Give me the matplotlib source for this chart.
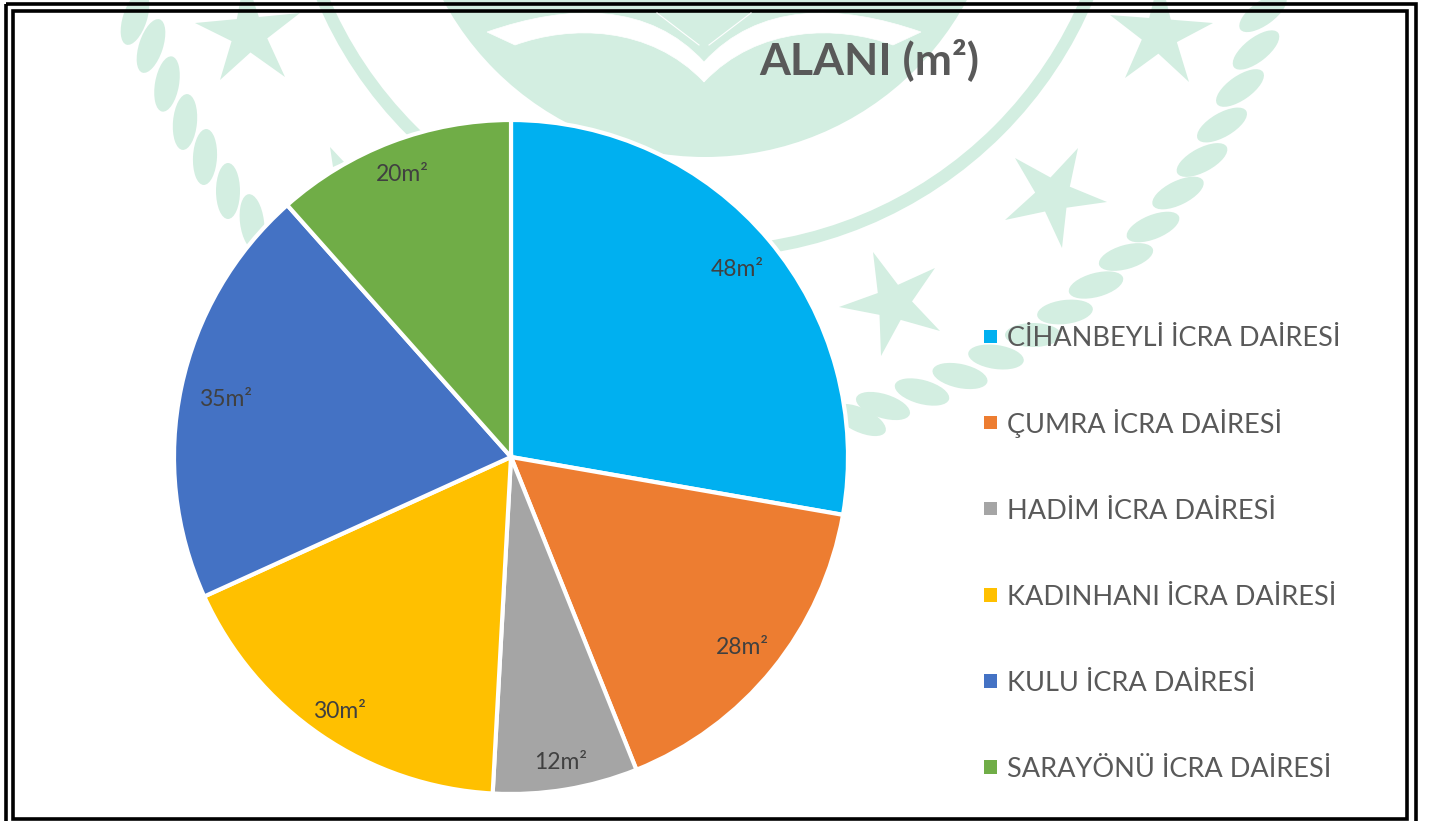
import matplotlib
matplotlib.use("Agg")
import matplotlib.pyplot as plt
from matplotlib.patches import Circle, Ellipse, Polygon, PathPatch, Rectangle
from matplotlib.path import Path

plt.rcParams['font.family'] = ['Lato', 'DejaVu Sans']

categories = ["CİHANBEYLİ İCRA DAİRESİ", "ÇUMRA İCRA DAİRESİ", "HADİM İCRA DAİRESİ",
              "KADINHANI İCRA DAİRESİ", "KULU İCRA DAİRESİ", "SARAYÖNÜ İCRA DAİRESİ"]
values = [48, 28, 12, 30, 35, 20]
colors = ["#00B0F0", "#ED7D31", "#A5A5A5", "#FFC000", "#4472C4", "#70AD47"]
title = "ALANI (m²)"

WM = "#D3EEE1"

fig = plt.figure(figsize=(14.34, 8.21), dpi=100, facecolor="white")

# background layer in pixel coords (watermark + frame)
bg = fig.add_axes([0, 0, 1, 1], zorder=0)
bg.set_xlim(0, 1434)
bg.set_ylim(821, 0)
bg.axis("off")


def star(tips):
    cx = sum(p[0] for p in tips) / 5
    cy = sum(p[1] for p in tips) / 5
    pts = []
    for i in range(5):
        a = tips[i]
        b = tips[(i + 1) % 5]
        pts.append(a)
        pts.append((cx + 0.42 * ((a[0] + b[0]) / 2 - cx), cy + 0.42 * ((a[1] + b[1]) / 2 - cy)))
    bg.add_patch(Polygon(pts, closed=True, fc=WM, ec="none"))


# big crest shape and ring
bg.add_patch(Circle((705, -140), 297, fc=WM, ec="none"))
bg.add_patch(Circle((705, -163), 415, fc="none", ec=WM, lw=9))


def page(m):
    # white band of the open book, m mirrors it around the crest axis
    x = lambda v: 704 + m * (v - 704)
    verts = [(x(487), 32), (x(570), 3), (x(650), 3), (x(704), 62), (x(704), 82),
             (x(650), 25), (x(570), 25), (x(515), 45), (x(487), 32)]
    codes = [Path.MOVETO, Path.CURVE4, Path.CURVE4, Path.CURVE4, Path.LINETO,
             Path.CURVE4, Path.CURVE4, Path.CURVE4, Path.CLOSEPOLY]
    bg.add_patch(PathPatch(Path(verts, codes), fc="white", ec="white", lw=0.5))
    bg.plot([x(657), x(699)], [13, 45], color="white", lw=0.8)


page(1)
page(-1)

star([(245, -25), (300, 13), (285, 77), (220, 80), (195, 23)])
star([(1160, -25), (1213, 23), (1189, 82), (1125, 78), (1110, 15)])
star([(1078, 148), (1107, 202), (1062, 248), (1005, 220), (1015, 158)])
star([(873, 252), (935, 268), (940, 331), (881, 356), (839, 307)])

# small star tip that pokes out above the pie
bg.add_patch(Polygon([(330, 147), (344, 162), (333, 167)], closed=True, fc=WM, ec="none"))

# laurel leaves: x, y, tilt (positive goes down to the right)
leaves = [(135, 18, -72), (151, 46, -72), (167, 84, -80), (185, 122, -85),
          (205, 157, -87), (228, 191, -90), (252, 222, -97),
          (1263, 13, -36), (1256, 50, -38), (1240, 88, -35), (1222, 125, -30),
          (1202, 160, -28), (1178, 193, -26), (1153, 227, -22), (1126, 257, -16),
          (1096, 285, -15), (1065, 312, -7), (1033, 335, 0), (996, 357, 8),
          (960, 376, 12), (922, 392, 15), (883, 406, 17), (860, 420, 25)]
for lx, ly, ang in leaves:
    bg.add_patch(Ellipse((lx, ly), 56, 24, angle=ang, fc=WM, ec="none"))

# double frame
bg.add_patch(Rectangle((5.5, 4), 1410, 830, fc="none", ec="black", lw=2.6))
bg.add_patch(Rectangle((13, 11), 1394, 808, fc="none", ec="black", lw=2.6))

# pie
side = 337 * 2 * 1.02
ax = fig.add_axes([(511 - side / 2) / 1434, (821 - 457 - side / 2) / 821, side / 1434, side / 821], zorder=1)
ax.patch.set_alpha(0)
data_labels = [f"{v}m²" for v in values]
wedges, texts = ax.pie(values, colors=colors, labels=data_labels, labeldistance=1.0,
                       startangle=90, counterclock=False,
                       wedgeprops=dict(edgecolor="white", linewidth=3),
                       textprops=dict(fontsize=16.5, color="#404040"))
label_r = [0.878, 0.882, 0.911, 0.902, 0.867, 0.905]
for t, r in zip(texts, label_r):
    px, py = t.get_position()
    t.set_position((px * r, py * r - 0.009))
    t.set_ha("center")
    t.set_va("center")
ax.set_xlim(-1.02, 1.02)
ax.set_ylim(-1.02, 1.02)

fig.text(869 / 1434, 1 - 60 / 821, title, fontsize=32, fontweight="bold", color="#595959",
         ha="center", va="center", zorder=3)

# legend rows drawn by hand, a real legend spaces rows by glyph height
for i, (name, c) in enumerate(zip(categories, colors)):
    row = 336.5 + 86.1 * i
    bg.add_patch(Rectangle((983.5, row - 6.8), 13.6, 13.6, fc=c, ec="none"))
    bg.text(1007, row + 10, name, fontsize=19.5, color="#595959", ha="left", va="baseline")

fig.savefig("out.png", dpi=100)
